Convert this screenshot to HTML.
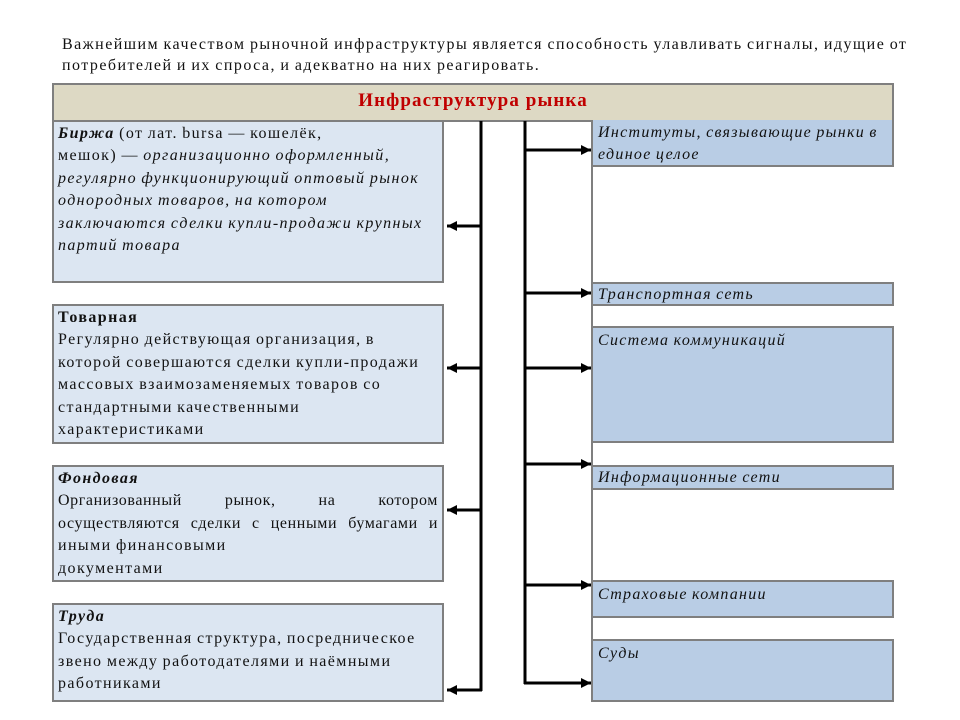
<!DOCTYPE html>
<html><head><meta charset="utf-8"><style>
body{margin:0;width:960px;height:720px;background:#fff;position:relative;overflow:hidden;font-family:"Liberation Serif","DejaVu Serif",serif;color:#111}
.a{position:absolute;box-sizing:border-box}
.l{background:#dce6f2;border:2px solid #7f7f7f;font-size:16px;letter-spacing:1.4px;word-spacing:-1px;line-height:22.4px;padding:1px 4px;white-space:nowrap}
.r{background:#b9cde5;border:2px solid #7f7f7f;border-left:none;font-size:16px;letter-spacing:1.3px;word-spacing:-1px;line-height:22px;padding:2px 5px 0;font-style:italic;white-space:nowrap}
.j{text-align:justify;text-align-last:justify;white-space:normal;letter-spacing:0.6px}
</style></head><body>
<div class="a" style="left:62px;top:34px;font-size:16px;letter-spacing:1.45px;word-spacing:-1px;line-height:21px;white-space:nowrap">Важнейшим качеством рыночной инфраструктуры является способность улавливать сигналы, идущие от<br>потребителей и их спроса, и адекватно на них реагировать.</div>
<div class="a" style="left:52px;top:83px;width:842px;height:39px;background:#ddd9c4;border:2px solid #7f7f7f;text-align:center;font-weight:bold;color:#c00000;font-size:19px;letter-spacing:1.1px;line-height:31px">Инфраструктура рынка</div>

<div class="a l" style="left:52px;top:120px;width:392px;height:163px"><b><i>Биржа</i></b> (от лат. bursa — кошелёк,<br>мешок) — <i>организационно оформленный,<br>регулярно функционирующий оптовый рынок<br>однородных товаров, на котором<br>заключаются сделки купли-продажи крупных<br>партий товара</i></div>
<div class="a l" style="left:52px;top:304px;width:392px;height:140px"><b>Товарная</b><br>Регулярно действующая организация, в<br>которой совершаются сделки купли-продажи<br>массовых взаимозаменяемых товаров со<br>стандартными качественными<br>характеристиками</div>
<div class="a l" style="left:52px;top:465px;width:392px;height:117px"><b><i>Фондовая</i></b><br><div class="j">Организованный рынок, на котором</div><div class="j">осуществляются сделки с ценными бумагами и</div>иными финансовыми<br>документами</div>
<div class="a l" style="left:52px;top:603px;width:392px;height:99px"><b><i>Труда</i></b><br>Государственная структура, посредническое<br>звено между работодателями и наёмными<br>работниками</div>

<div class="a" style="left:591px;top:120px;width:2px;height:582px;background:#7f7f7f"></div>
<div class="a r" style="left:593px;top:120px;width:301px;height:47px;border-top:none">Институты, связывающие рынки в<br>единое целое</div>
<div class="a r" style="left:593px;top:282px;width:301px;height:24px;padding-top:0">Транспортная сеть</div>
<div class="a r" style="left:593px;top:326px;width:301px;height:117px">Система коммуникаций</div>
<div class="a r" style="left:593px;top:465px;width:301px;height:25px;padding-top:0">Информационные сети</div>
<div class="a r" style="left:593px;top:580px;width:301px;height:38px">Страховые компании</div>
<div class="a r" style="left:593px;top:639px;width:301px;height:63px">Суды</div>

<svg class="a" style="left:0;top:0" width="960" height="720">
<defs>
<marker id="k" viewBox="0 0 10 10" markerWidth="10" markerHeight="10" refX="10" refY="5" orient="auto" markerUnits="userSpaceOnUse"><path d="M0,0 L10,5 L0,10 z" fill="#000"/></marker></defs>
<g stroke="#000" stroke-width="3" fill="none">
<line x1="481" y1="121" x2="481" y2="691"/>
<line x1="525" y1="121" x2="525" y2="684"/>
<line x1="482" y1="226" x2="447" y2="226" marker-end="url(#k)"/>
<line x1="482" y1="368" x2="447" y2="368" marker-end="url(#k)"/>
<line x1="482" y1="510" x2="447" y2="510" marker-end="url(#k)"/>
<line x1="482" y1="690" x2="447" y2="690" marker-end="url(#k)"/>
<line x1="524" y1="150" x2="591" y2="150" marker-end="url(#k)"/>
<line x1="524" y1="293" x2="591" y2="293" marker-end="url(#k)"/>
<line x1="524" y1="368" x2="591" y2="368" marker-end="url(#k)"/>
<line x1="524" y1="464" x2="591" y2="464" marker-end="url(#k)"/>
<line x1="524" y1="585" x2="591" y2="585" marker-end="url(#k)"/>
<line x1="524" y1="683" x2="591" y2="683" marker-end="url(#k)"/>
</g></svg>
</body></html>
